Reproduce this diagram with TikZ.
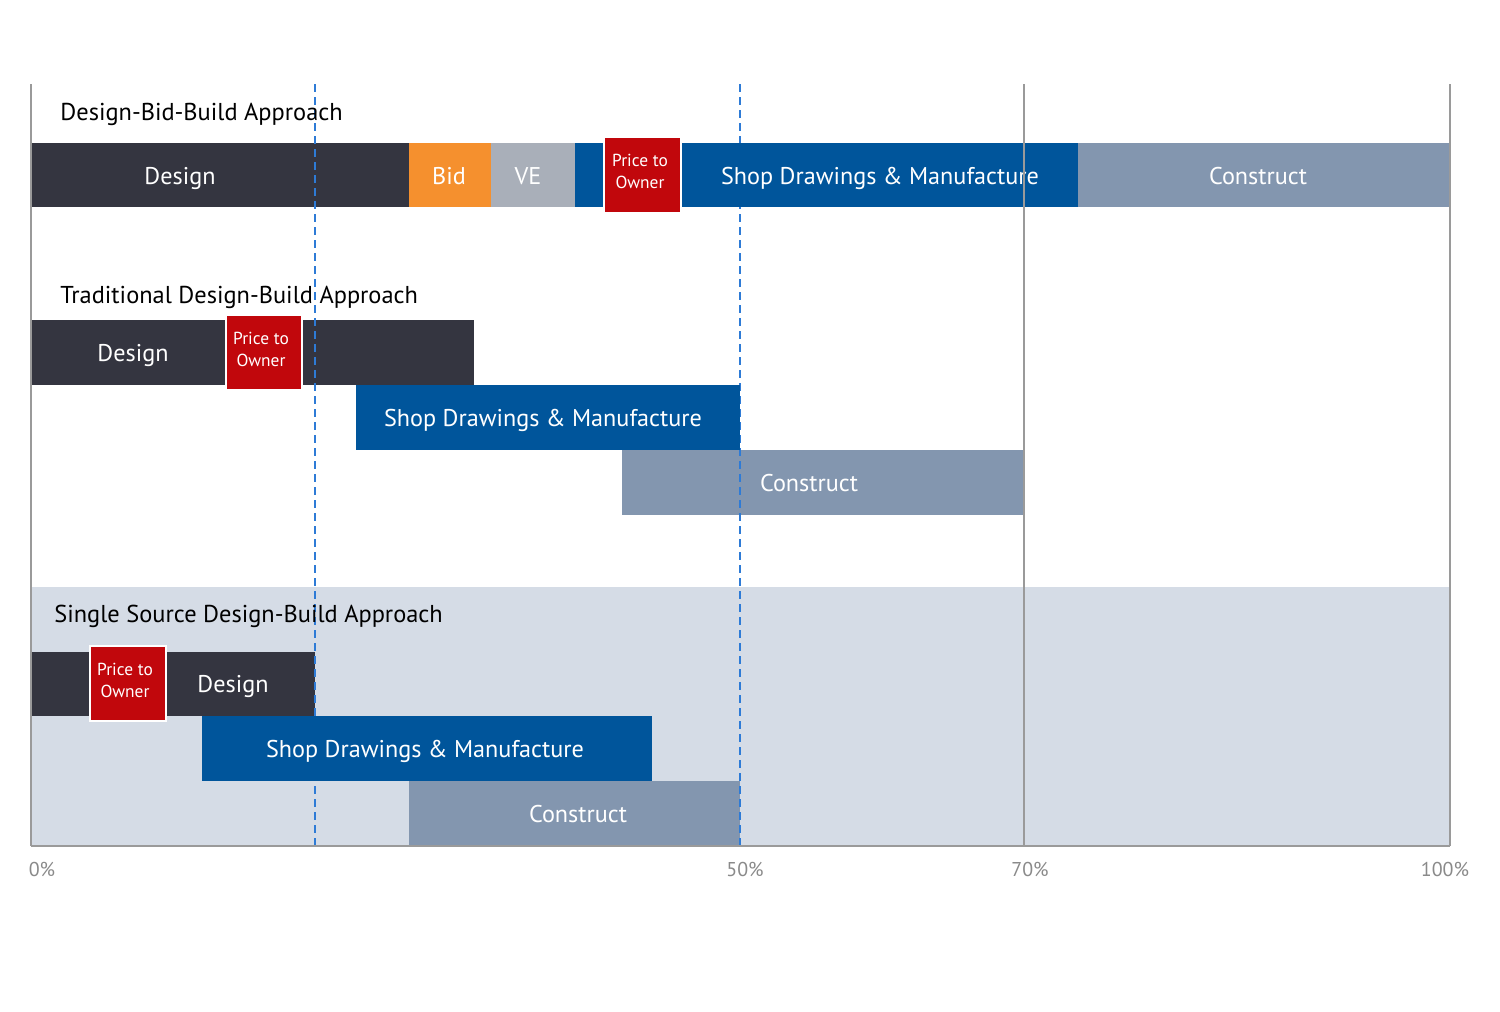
\documentclass[tikz,border=0pt]{standalone}
\usepackage{fontspec}
\setmainfont{PT Sans}
\definecolor{darkbar}{HTML}{343540}
\definecolor{bidor}{HTML}{F5902E}
\definecolor{vegray}{HTML}{A9AFB9}
\definecolor{shopblue}{HTML}{00559B}
\definecolor{pricered}{HTML}{C1070C}
\definecolor{constr}{HTML}{8396AF}
\definecolor{lightbg}{HTML}{D5DCE6}
\definecolor{dashblue}{HTML}{2E7BD6}
\definecolor{gridgray}{HTML}{9A9A9A}
\definecolor{axtext}{HTML}{8A8A8A}
\begin{document}
\begin{tikzpicture}[x=0.5pt,y=-0.5pt,
  bartext/.style={text=white,font=\fontsize{12.1}{14}\selectfont,inner sep=0pt,anchor=base,yshift=-4.3pt},
  pricetext/.style={text=white,font=\fontsize{8.7}{11}\selectfont,align=center,inner sep=0pt},
  title/.style={anchor=base west,text=black,font=\fontsize{12.2}{14}\selectfont,inner sep=0pt},
  axlabel/.style={text=axtext,font=\fontsize{10}{12}\selectfont,inner sep=0pt},
  pricebox/.style={fill=pricered,draw=white,line width=0.8pt},
  gridline/.style={draw=gridgray,line width=0.75pt},
  dashline/.style={draw=dashblue,line width=1pt,dash pattern=on 4pt off 2.5pt}]
\useasboundingbox (0,0) rectangle (1500,1012);
\fill[white] (0,0) rectangle (1500,1012);
% shaded section
\fill[lightbg] (31,587) rectangle (1450,846);
% row 1
\fill[darkbar] (31,143) rectangle (409,207);
\fill[bidor] (409,143) rectangle (491,207);
\fill[vegray] (491,143) rectangle (575,207);
\fill[constr] (1078,143) rectangle (1450,207);
% row 2
\fill[darkbar] (31,320) rectangle (474,385);
\fill[constr] (622,450) rectangle (1024,515);
% row 3
\fill[darkbar] (31,652) rectangle (315,716);
\fill[constr] (409,781) rectangle (740,846);
% dashed guides
\coordinate (d1t) at (315,84); \coordinate (d1b) at (315,846);
\coordinate (d2t) at (740,84); \coordinate (d2b) at (740,846);
\draw[dashline] (d1t) -- (d1b);
\draw[dashline] (d2t) -- (d2b);
% blue bars
\fill[shopblue] (575,143) rectangle (1078,207);
\fill[shopblue] (356,385) rectangle (740,450);
\fill[shopblue] (202,716) rectangle (652,781);
% price boxes
\filldraw[pricebox] (604,137) rectangle (681,213);
\filldraw[pricebox] (226,315) rectangle (302,390);
\filldraw[pricebox] (90,646) rectangle (166,721);
% texts
\node[title] (t1) at (60,120) {Design-Bid-Build Approach};
\node[title] (t2) at (60,303) {Traditional Design-Build Approach};
\node[title] (t3) at (54,622) {Single Source Design-Build Approach};
\node[bartext] (a1) at (180,176) {Design};
\node[bartext] (a2) at (449,176) {Bid};
\node[bartext] (a3) at (528,176) {VE};
\node[pricetext] (a4) at (640,171) {Price to\\Owner};
\node[bartext] (a5) at (880,176) {Shop Drawings \& Manufacture};
\node[bartext] (a6) at (1258,176) {Construct};
\node[bartext] (b1) at (133,353) {Design};
\node[pricetext] (b2) at (261,349) {Price to\\Owner};
\node[bartext] (b3) at (543,418) {Shop Drawings \& Manufacture};
\node[bartext] (b4) at (809,483) {Construct};
\node[pricetext] (c1) at (125,680) {Price to\\Owner};
\node[bartext] (c2) at (233,684) {Design};
\node[bartext] (c3) at (425,749) {Shop Drawings \& Manufacture};
\node[bartext] (c4) at (578,814) {Construct};
% grid lines
\coordinate (g0t) at (31,84); \coordinate (g0b) at (31,846);
\coordinate (g7t) at (1024,84); \coordinate (g7b) at (1024,846);
\coordinate (g10t) at (1450,84); \coordinate (g10b) at (1450,846);
\draw[gridline] (g0t) -- (g0b);
\draw[gridline] (g7t) -- (g7b);
\draw[gridline] (g10t) -- (g10b);
\draw[gridline] (g0b) -- (g10b);
% axis labels
\node[axlabel] (p0) at (42,869) {0\%};
\node[axlabel] (p50) at (745,869) {50\%};
\node[axlabel] (p70) at (1030,869) {70\%};
\node[axlabel] (p100) at (1445,869) {100\%};
\end{tikzpicture}
\end{document}
